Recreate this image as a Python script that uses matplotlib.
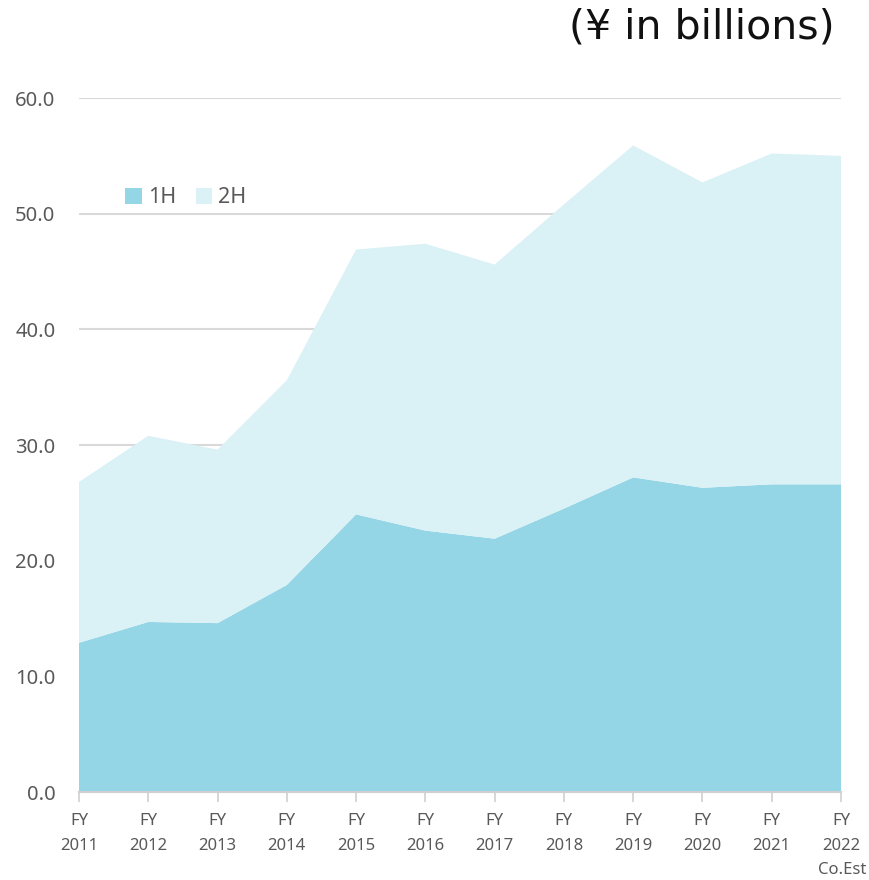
import matplotlib
matplotlib.use("Agg")
import matplotlib.pyplot as plt
import numpy as np

years = ["2011", "2012", "2013", "2014", "2015", "2016", "2017", "2018", "2019", "2020", "2021", "2022"]
first_half = [12.9, 14.7, 14.6, 17.9, 24.0, 22.6, 21.9, 24.5, 27.2, 26.3, 26.6, 26.6]
second_half = [13.9, 16.1, 15.0, 17.7, 22.9, 24.8, 23.7, 26.3, 28.7, 26.4, 28.6, 28.4]
series_names = ["1H", "2H"]
y_ticks = [0, 10, 20, 30, 40, 50, 60]

plt.rcParams['font.family'] = ['Noto Sans', 'DejaVu Sans']

fig = plt.figure(figsize=(8.7, 8.8), dpi=100)
ax = fig.add_axes([79/870, 1 - 792/880, (841 - 79)/870, (792 - 98)/880])

x = np.arange(len(years))
c1 = "#94d6e6"
c2 = "#daf1f6"
ax.stackplot(x, first_half, second_half, colors=[c1, c2], labels=series_names, zorder=2)

ax.set_xlim(0, len(years) - 1)
ax.set_ylim(0, 60)
ax.set_yticks(y_ticks)
ax.set_yticklabels([f"{v:.1f}" for v in y_ticks], fontsize=14.5, color="#595959")
ax.yaxis.grid(True, color="#d9d9d9", linewidth=1.5, zorder=1)
ax.set_axisbelow(True)
ax.tick_params(axis="y", length=0, pad=17)

ax.set_xticks(x)
ax.set_xticklabels([f"FY\n{y}" for y in years], fontsize=12, color="#595959", linespacing=1.75)
ax.tick_params(axis="x", length=7, width=1.2, color="#d0d0d0", pad=8)

for s in ["top", "right", "left"]:
    ax.spines[s].set_visible(False)
ax.spines["bottom"].set_color("#d0d0d0")
ax.spines["bottom"].set_linewidth(1.5)

fig.text(866/870, 1 - 870/880, "Co.Est", fontsize=12, color="#595959", ha="right", va="center")

fig.text(835/870, 1 - 27/880, "(¥ in billions)", fontsize=29.5, color="#111111", ha="right", va="center",
         family=["DejaVu Sans"])

leg = ax.legend(loc="center left", bbox_to_anchor=(0.061, 0.856), ncol=2, frameon=False,
                fontsize=15.5, handlelength=0.75, handleheight=0.75, handletextpad=0.3,
                columnspacing=0.9, labelcolor="#595959", borderaxespad=0, borderpad=0)

fig.savefig("out.png", dpi=100)
